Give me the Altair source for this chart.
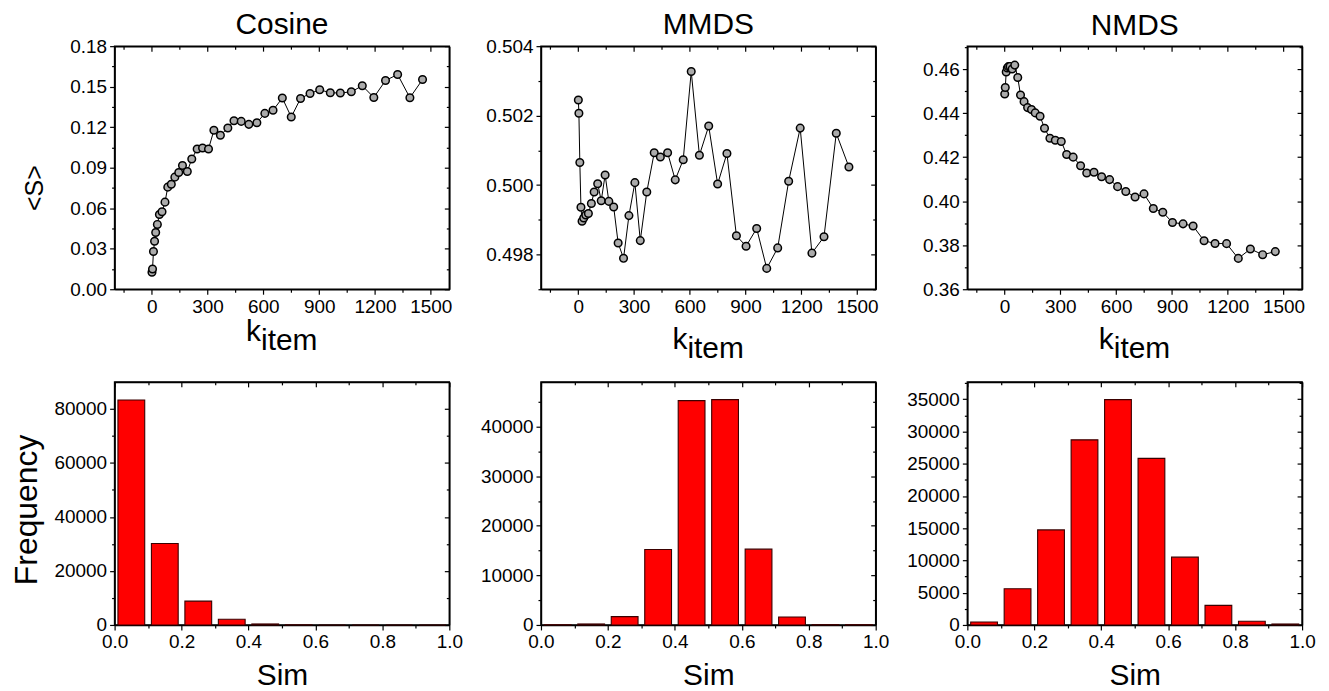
import altair as alt
import pandas as pd

FONT = "Liberation Sans"
W, H = 336, 244

# ---------------- data ----------------
k_item = [1, 4, 9, 15, 21, 30, 41, 55, 71, 86, 105, 124, 145, 165, 191, 215,
          244, 273, 305, 334, 369, 409, 442, 481, 522, 565, 608, 652, 702, 750,
          800, 851, 903, 960, 1014, 1073, 1132, 1194, 1257, 1322, 1388, 1456]

s_cosine = [0.0126, 0.0150, 0.0280, 0.0355, 0.0420, 0.0480, 0.0554, 0.0574,
            0.0645, 0.0756, 0.0778, 0.0830, 0.0864, 0.0916, 0.0872, 0.0965,
            0.1039, 0.1046, 0.1039, 0.1177, 0.1140, 0.1194, 0.1248, 0.1243,
            0.1221, 0.1233, 0.1302, 0.1325, 0.1416, 0.1275, 0.1413, 0.1450,
            0.1477, 0.1455, 0.1453, 0.1462, 0.1507, 0.1420, 0.1546, 0.1590,
            0.1418, 0.1553]

s_mmds = [0.50245, 0.50207, 0.50065, 0.49936, 0.49896, 0.49905, 0.49914,
          0.49918, 0.49947, 0.49980, 0.50004, 0.49955, 0.50029, 0.49953,
          0.49937, 0.49833, 0.49789, 0.49912, 0.50007, 0.49840, 0.49980,
          0.50093, 0.50081, 0.50093, 0.50015, 0.50073, 0.50327, 0.50086,
          0.50170, 0.50003, 0.50091, 0.49854, 0.49824, 0.49875, 0.49760,
          0.49819, 0.50011, 0.50164, 0.49804, 0.49851, 0.50149, 0.50052]

s_nmds = [0.4487, 0.4516, 0.4587, 0.4605, 0.4611, 0.4612, 0.4600, 0.4618,
          0.4562, 0.4482, 0.4452, 0.4425, 0.4416, 0.4401, 0.4386, 0.4331,
          0.4286, 0.4277, 0.4271, 0.4212, 0.4200, 0.4161, 0.4128, 0.4131,
          0.4111, 0.4098, 0.4066, 0.4044, 0.4019, 0.4033, 0.3967, 0.3950,
          0.3903, 0.3897, 0.3887, 0.3820, 0.3808, 0.3807, 0.3740, 0.3783,
          0.3757, 0.3771]

sim_bin_start = [0.0, 0.1, 0.2, 0.3, 0.4, 0.5, 0.6, 0.7, 0.8, 0.9]
freq_cosine = [83300, 30180, 8830, 2090, 370, 40, 0, 0, 0, 0]
freq_mmds = [50, 200, 1675, 15210, 45230, 45430, 15280, 1610, 60, 50]
freq_nmds = [460, 5620, 14740, 28710, 34950, 25830, 10520, 3040, 570, 150]

panel_titles = ["Cosine", "MMDS", "NMDS"]

# tick values (labels shown only on majors)
k_ticks = [-150, 0, 150, 300, 450, 600, 750, 900, 1050, 1200, 1350, 1500]
cos_ticks = [round(i * 0.015, 3) for i in range(13)]
mmds_ticks = [0.497, 0.498, 0.499, 0.500, 0.501, 0.502, 0.503, 0.504]
nmds_ticks = [0.36, 0.37, 0.38, 0.39, 0.40, 0.41, 0.42, 0.43, 0.44, 0.45, 0.46, 0.47]
sim_ticks = [0.0, 0.1, 0.2, 0.3, 0.4, 0.5, 0.6, 0.7, 0.8, 0.9, 1.0]
fc_ticks = [i * 10000 for i in range(9)]
fm_ticks = [i * 5000 for i in range(10)]
fn_ticks = [i * 2500 for i in range(16)]


def make_axis(orient, values, major, fmt, labels=True, offset=0, title=None,
              title_size=30, title_pad=10, title_y=None):
    test = f"abs(datum.value/{major} - round(datum.value/{major})) < 1e-6"
    kw = dict(
        orient=orient,
        values=values,
        grid=False,
        domainColor="black",
        domainWidth=1.5,
        tickColor="black",
        tickWidth=1.2,
        tickSize={"condition": {"test": test, "value": 5}, "value": 3},
        labels=labels,
        labelFont=FONT,
        labelFontSize=19,
        labelColor="black",
        labelPadding=3,
        labelExpr=f"{test} ? format(datum.value, '{fmt}') : ''",
        labelOverlap=False,
        labelFlush=False,
        offset=offset,
    )
    if title is not None:
        kw.update(title=title, titleFont=FONT, titleFontSize=title_size,
                  titleFontWeight="normal", titleColor="black",
                  titlePadding=title_pad)
        if title_y is not None:
            kw.update(titleY=title_y)
    else:
        kw.update(title=None)
    return alt.Axis(**kw)


def top_panel(svals, title, ydom, yticks, ymajor, yfmt, ytitle=None, kdy=0):
    df = pd.DataFrame({"k": k_item, "S": svals})
    xs = alt.Scale(domain=[-200, 1600], nice=False, zero=False)
    ys = alt.Scale(domain=ydom, nice=False, zero=False)
    line = alt.Chart(df).mark_line(color="black", strokeWidth=1).encode(
        x=alt.X("k:Q", scale=xs, axis=make_axis("bottom", k_ticks, 300, "d")),
        y=alt.Y("S:Q", scale=ys,
                axis=make_axis("left", yticks, ymajor, yfmt, title=ytitle,
                               title_size=25, title_pad=22, title_y=H / 2 + 20)),
    )
    pts = alt.Chart(df).mark_circle(size=58, color="#ababab", stroke="black",
                                    strokeWidth=1.5, opacity=1).encode(
        x=alt.X("k:Q", scale=xs, axis=None),
        y=alt.Y("S:Q", scale=ys, axis=None),
    )
    mirror = alt.Chart(df).mark_point(opacity=0).encode(
        x=alt.X("k:Q", scale=xs,
                axis=make_axis("bottom", k_ticks, 300, "d", labels=False, offset=-H)),
        y=alt.Y("S:Q", scale=ys,
                axis=make_axis("left", yticks, ymajor, yfmt, labels=False, offset=-W)),
    )
    one = pd.DataFrame({"a": [0]})
    k_txt = alt.Chart(one).mark_text(text="k", font=FONT, fontSize=30, align="left",
                                     baseline="alphabetic", color="black").encode(
        x=alt.value(W / 2 - 36), y=alt.value(H + 52 + kdy))
    item_txt = alt.Chart(one).mark_text(text="item", font=FONT, fontSize=30, align="left",
                                        baseline="alphabetic", color="black").encode(
        x=alt.value(W / 2 - 21), y=alt.value(H + 61 + kdy))
    return alt.layer(line, pts, mirror, k_txt, item_txt).resolve_axis(
        x="independent", y="independent"
    ).properties(
        width=W, height=H,
        title=alt.TitleParams(title, font=FONT, fontSize=30, fontWeight="normal",
                              color="black", offset=-3, anchor="middle"),
    )


def bottom_panel(freqs, ydom, yticks, ymajor, ytitle=None):
    df = pd.DataFrame({
        "x0": [round(v + 0.01, 3) for v in sim_bin_start],
        "x1": [round(v + 0.09, 3) for v in sim_bin_start],
        "f": freqs,
        "base": [0] * len(freqs),
    })
    xs = alt.Scale(domain=[0, 1], nice=False, zero=False)
    ys = alt.Scale(domain=ydom, nice=False)
    bars = alt.Chart(df).mark_bar(color="#ff0000", stroke="#3a0000",
                                  strokeWidth=1.1, opacity=1).encode(
        x=alt.X("x0:Q", scale=xs,
                axis=make_axis("bottom", sim_ticks, 0.2, ".1f", title="Sim",
                               title_size=30, title_pad=9)),
        x2="x1:Q",
        y=alt.Y("f:Q", scale=ys,
                axis=make_axis("left", yticks, ymajor, "d", title=ytitle,
                               title_size=32, title_pad=11, title_y=H / 2 + 6)),
        y2="base:Q",
    )
    mirror = alt.Chart(df).mark_point(opacity=0).encode(
        x=alt.X("x0:Q", scale=xs,
                axis=make_axis("bottom", sim_ticks, 0.2, ".1f", labels=False, offset=-H)),
        y=alt.Y("f:Q", scale=ys,
                axis=make_axis("left", yticks, ymajor, "d", labels=False, offset=-W)),
    )
    return alt.layer(bars, mirror).resolve_axis(
        x="independent", y="independent"
    ).properties(width=W, height=H)


t1 = top_panel(s_cosine, panel_titles[0], [0, 0.18], cos_ticks, 0.03, ".2f", ytitle="<S>")
t2 = top_panel(s_mmds, panel_titles[1], [0.497, 0.504], mmds_ticks, 0.002, ".3f", kdy=8)
t3 = top_panel(s_nmds, panel_titles[2], [0.36, 0.4704], nmds_ticks, 0.02, ".2f", kdy=8)

b1 = bottom_panel(freq_cosine, [0, 90000], fc_ticks, 20000, ytitle="Frequency")
b2 = bottom_panel(freq_mmds, [0, 49000], fm_ticks, 10000)
b3 = bottom_panel(freq_nmds, [0, 37700], fn_ticks, 5000)

chart = alt.concat(t1, t2, t3, b1, b2, b3, columns=3,
                   spacing={"row": 93, "column": 92}, bounds="flush").properties(
    padding={"left": 1, "top": 0, "right": 5, "bottom": 2},
    background="white",
).configure_view(stroke="black", strokeWidth=1.5)

chart.save("out.html", embed_options={"renderer": "svg", "actions": False})
